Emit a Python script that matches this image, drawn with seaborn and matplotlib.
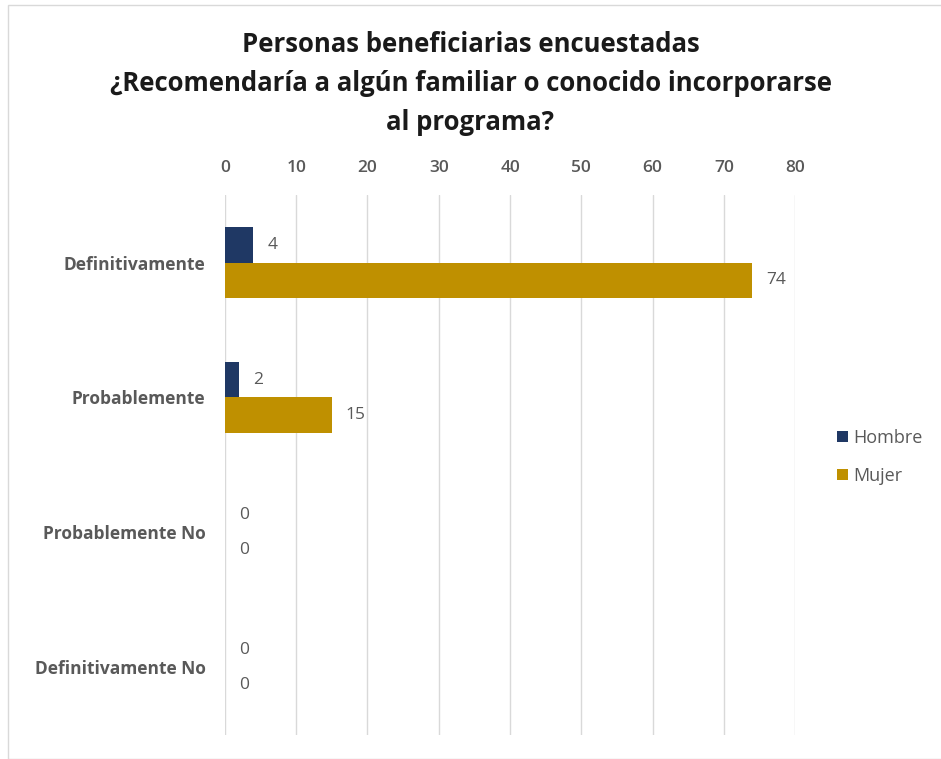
import numpy as np
import pandas as pd
import matplotlib.pyplot as plt
import seaborn as sns
from matplotlib.patches import Rectangle

# Data
categories = ['Definitivamente', 'Probablemente', 'Probablemente No', 'Definitivamente No']
hombre = [4, 2, 0, 0]
mujer = [74, 15, 0, 0]
series = ['Hombre', 'Mujer']
colors = {'Hombre': '#1F3864', 'Mujer': '#BF9000'}

df = pd.DataFrame({
    'categoria': categories * 2,
    'valor': hombre + mujer,
    'sexo': ['Hombre'] * len(categories) + ['Mujer'] * len(categories),
})

sns.set_theme(style='white')
plt.rcParams['font.family'] = ['Open Sans', 'DejaVu Sans']

fig = plt.figure(figsize=(9.41, 7.59), dpi=100)
ax = fig.add_axes([0.239, 0.032, 0.606, 0.711])

sns.barplot(data=df, y='categoria', x='valor', hue='sexo', orient='h',
            order=categories, hue_order=series, palette=colors,
            saturation=1, linewidth=0, width=0.52, ax=ax)

for container in ax.containers:
    ax.bar_label(container, padding=10, color='#595959', fontsize=12.5)

ax.set_xlim(0, 80)
ax.set_xticks(np.arange(0, 81, 10))
ax.xaxis.tick_top()
ax.tick_params(axis='x', length=0, labelsize=12.5, labelcolor='#595959', pad=14)
ax.tick_params(axis='y', length=0, labelsize=12.5, labelcolor='#595959', pad=14)
for lbl in ax.get_yticklabels():
    lbl.set_fontweight('bold')
for lbl in ax.get_xticklabels():
    lbl.set_fontweight('semibold')
ax.set_xlabel('')
ax.set_ylabel('')
ax.grid(axis='x', color='#D9D9D9', linewidth=1)
ax.set_axisbelow(True)
for s in ax.spines.values():
    s.set_visible(False)

ax.legend(loc='center left', bbox_to_anchor=(1.035, 0.515), frameon=False,
          fontsize=13, labelcolor='#595959', handlelength=0.6, handleheight=0.6,
          labelspacing=1.1, handletextpad=0.3, borderaxespad=0.8)

fig.text(0.5, 0.89, 'Personas beneficiarias encuestadas\n'
         '¿Recomendaría a algún familiar o conocido incorporarse\n'
         'al programa?', ha='center', va='center', fontsize=18.5,
         fontweight='bold', color='#1a1a1a', linespacing=1.55)

fig.patches.append(Rectangle((8 / 941, 0), 1, 1 - 5 / 759, transform=fig.transFigure,
                             fill=False, edgecolor='#D9D9D9', linewidth=1))

fig.savefig('out.png', dpi=100)
